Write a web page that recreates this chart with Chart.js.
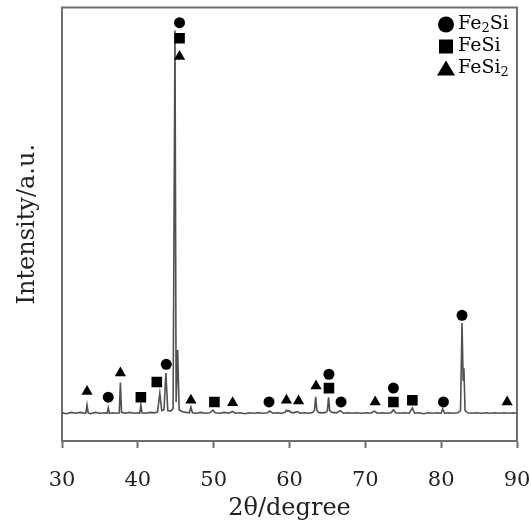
<!DOCTYPE html>
<html>
<head>
<meta charset="utf-8">
<script src="https://cdn.jsdelivr.net/npm/chart.js@4.4.0/dist/chart.umd.min.js"></script>
<style>
  html, body { margin: 0; padding: 0; background: #fff; }
  #wrap { width: 531px; height: 527px; }
</style>
</head>
<body>
<div id="wrap"><canvas id="xrdChart" width="531" height="527"></canvas></div>
<script>
/* =========================
   DIFRACTOGRAMA XRD
========================= */
const twoTheta = [
    30.0, 30.6, 31.2, 31.8, 32.4, 33.0, 33.15, 33.3, 33.45, 33.8,
    34.4, 35.0, 35.6, 35.95, 36.1, 36.25, 36.7, 37.2, 37.55, 37.7,
    37.85, 38.3, 38.9, 39.5, 40.0, 40.25, 40.4, 40.55, 41.0, 41.6,
    42.2, 42.6, 42.9, 43.15, 43.45, 43.7, 43.95, 44.35, 44.65, 44.9,
    45.05, 45.25, 45.45, 45.8, 46.3, 46.8, 47.0, 47.2, 47.7, 48.3,
    48.9, 49.5, 49.9, 50.2, 50.8, 51.4, 52.0, 52.5, 52.9, 53.5,
    54.1, 54.7, 55.3, 55.9, 56.5, 57.1, 57.4, 57.8, 58.4, 59.0,
    59.4, 59.6, 59.8, 60.0, 60.2, 60.6, 61.0, 61.4, 62.0, 62.6,
    63.1, 63.3, 63.45, 63.6, 63.8, 64.3, 64.8, 65.0, 65.15, 65.3,
    65.6, 66.2, 66.7, 67.1, 67.7, 68.3, 68.9, 69.5, 70.1, 70.7,
    71.2, 71.6, 72.2, 72.8, 73.4, 73.7, 74.0, 74.6, 75.2, 75.8,
    76.2, 76.5, 77.1, 77.7, 78.3, 78.9, 79.5, 80.0, 80.2, 80.45,
    81.0, 81.6, 82.2, 82.55, 82.75, 82.9, 83.0, 83.15, 83.5, 84.1,
    84.7, 85.3, 85.9, 86.5, 87.1, 87.7, 88.3, 88.9, 89.5, 90.0
];

const intensity = [
    6.5, 6.3, 6.6, 6.4, 6.6, 6.4, 6.5, 8.3, 6.5, 6.3,
    6.6, 6.4, 6.5, 6.4, 7.6, 6.4, 6.5, 6.4, 6.5, 13.5,
    6.6, 6.4, 6.6, 6.4, 6.5, 6.4, 8.3, 6.5, 6.4, 6.6,
    6.5, 6.7, 11.0, 7.0, 7.2, 15.7, 7.0, 6.9, 7.5, 94.7,
    9.0, 21.0, 7.2, 6.8, 6.6, 6.5, 7.8, 6.5, 6.4, 6.6,
    6.4, 6.5, 7.1, 6.5, 6.4, 6.6, 6.4, 6.8, 6.4, 6.5,
    6.3, 6.5, 6.4, 6.5, 6.4, 6.5, 6.9, 6.4, 6.5, 6.4,
    6.6, 7.1, 6.8, 7.0, 6.6, 6.5, 6.8, 6.4, 6.5, 6.4,
    6.6, 7.2, 10.2, 7.2, 6.6, 6.5, 6.6, 7.0, 10.1, 7.0,
    6.6, 6.5, 7.0, 6.4, 6.5, 6.4, 6.5, 6.4, 6.5, 6.4,
    6.9, 6.4, 6.5, 6.4, 6.5, 7.2, 6.5, 6.4, 6.5, 6.4,
    7.6, 6.4, 6.5, 6.3, 6.5, 6.4, 6.5, 6.4, 7.4, 6.4,
    6.5, 6.4, 6.5, 7.0, 27.2, 14.0, 16.8, 7.0, 6.5, 6.4,
    6.5, 6.4, 6.5, 6.4, 6.5, 6.4, 6.5, 6.4, 6.5, 6.4
];

/* FASES IDENTIFICADAS */
const fe2siTheta = [36.1, 43.75, 45.5, 57.3, 65.2, 66.8, 73.7, 80.3, 82.75];
const fe2siLevel = [10.1, 17.7, 96.5, 9.0, 15.4, 9.0, 12.2, 9.0, 29.0];

const fesiTheta = [40.4, 42.5, 45.5, 50.1, 65.2, 73.7, 76.2];
const fesiLevel = [10.1, 13.6, 92.9, 9.0, 12.2, 9.0, 9.4];

const fesi2Theta = [33.3, 37.7, 45.5, 47.0, 52.5, 59.6, 61.2, 63.5, 71.3, 88.7];
const fesi2Level = [11.4, 15.7, 88.7, 9.4, 8.8, 9.4, 9.2, 12.7, 9.0, 9.0];

/* ETIQUETAS: texto base, subindice, resto */
const phaseLabels = [
    ["Fe", "2", "Si"],
    ["FeSi", "", ""],
    ["FeSi", "2", ""]
];

const xTicks = [30, 40, 50, 60, 70, 80, 90];

const SERIF = "'DejaVu Serif', 'Liberation Serif', serif";

function toPoints(xs, ys) {
    return xs.map((x, i) => ({ x: x, y: ys[i] }));
}

/* =========================
   MARCO DEL AREA
========================= */
const framePlugin = {
    id: "frame",
    beforeDatasetsDraw(chart) {
        const { ctx, chartArea } = chart;
        ctx.save();
        ctx.strokeStyle = "#6e6e6e";
        ctx.lineWidth = 2;
        ctx.strokeRect(
            chartArea.left,
            chartArea.top,
            chartArea.right - chartArea.left,
            chartArea.bottom - chartArea.top
        );
        ctx.restore();
    }
};

/* =========================
   LEYENDA DE FASES
========================= */
function drawMarker(ctx, style, x, y) {
    ctx.beginPath();
    if (style === "circle") {
        ctx.arc(x, y, 8, 0, Math.PI * 2);
    } else if (style === "rect") {
        ctx.rect(x - 7, y - 7, 14, 14);
    } else {
        ctx.moveTo(x, y - 8);
        ctx.lineTo(x + 9, y + 7);
        ctx.lineTo(x - 9, y + 7);
        ctx.closePath();
    }
    ctx.fill();
}

const legendPlugin = {
    id: "phaseLegend",
    afterDraw(chart) {
        const { ctx, chartArea } = chart;
        const styles = ["circle", "rect", "triangle"];
        const markerX = chartArea.right - 71;
        const textX = chartArea.right - 59;

        ctx.save();
        ctx.fillStyle = "#000";
        ctx.textBaseline = "middle";

        phaseLabels.forEach((parts, i) => {
            const y = chartArea.top + 17 + i * 22;
            drawMarker(ctx, styles[i], markerX, y);

            let x = textX;
            ctx.font = "19px " + SERIF;
            ctx.fillText(parts[0], x, y);
            x += ctx.measureText(parts[0]).width;

            if (parts[1]) {
                ctx.font = "13px " + SERIF;
                ctx.fillText(parts[1], x, y + 4);
                x += ctx.measureText(parts[1]).width;
            }
            if (parts[2]) {
                ctx.font = "19px " + SERIF;
                ctx.fillText(parts[2], x, y);
            }
        });

        ctx.restore();
    }
};

/* =========================
   GRAFICO
========================= */
const markerBase = {
    type: "scatter",
    backgroundColor: "#000",
    borderColor: "#000",
    borderWidth: 0,
    order: 0
};

new Chart(document.getElementById("xrdChart").getContext("2d"), {
    data: {
        datasets: [
            Object.assign({}, markerBase, {
                label: "Fe2Si",
                data: toPoints(fe2siTheta, fe2siLevel),
                pointStyle: "circle",
                pointRadius: 5.5
            }),
            Object.assign({}, markerBase, {
                label: "FeSi",
                data: toPoints(fesiTheta, fesiLevel),
                pointStyle: "rect",
                pointRadius: 7.5
            }),
            Object.assign({}, markerBase, {
                label: "FeSi2",
                data: toPoints(fesi2Theta, fesi2Level),
                pointStyle: "triangle",
                pointRadius: 6.5
            }),
            {
                type: "line",
                label: "XRD",
                data: toPoints(twoTheta, intensity),
                borderColor: "#505050",
                borderWidth: 1.6,
                pointRadius: 0,
                tension: 0,
                order: 1
            }
        ]
    },
    options: {
        responsive: false,
        animation: false,
        events: [],
        layout: {
            padding: { top: 7, right: 14, left: 0, bottom: 0 }
        },
        plugins: {
            legend: { display: false },
            tooltip: { enabled: false }
        },
        scales: {
            x: {
                type: "linear",
                min: 30,
                max: 90,
                afterBuildTicks: scale => {
                    scale.ticks = xTicks.map(v => ({ value: v }));
                },
                afterFit: scale => {
                    scale.height = 86;
                    scale.paddingLeft = 0;
                    scale.paddingRight = 0;
                },
                ticks: {
                    color: "#222",
                    font: { family: SERIF, size: 21 },
                    padding: 20,
                    maxRotation: 0
                },
                grid: {
                    drawOnChartArea: false,
                    drawTicks: true,
                    tickLength: 7,
                    tickWidth: 2,
                    tickColor: "#6e6e6e"
                },
                border: { color: "#6e6e6e", width: 2 },
                title: {
                    display: true,
                    text: "2θ/degree",
                    color: "#222",
                    font: { family: SERIF, size: 24, lineHeight: 1 },
                    padding: { top: 0, bottom: 6 }
                }
            },
            y: {
                min: 0,
                max: 100,
                afterFit: scale => {
                    scale.width = 62;
                    scale.paddingTop = 0;
                    scale.paddingBottom = 0;
                },
                ticks: { display: false },
                grid: { display: false },
                border: { color: "#6e6e6e", width: 2 },
                title: {
                    display: true,
                    text: "Intensity/a.u.",
                    color: "#222",
                    font: { family: SERIF, size: 24, lineHeight: 1 },
                    padding: { top: 16, bottom: 0 }
                }
            }
        }
    },
    plugins: [framePlugin, legendPlugin]
});
</script>
</body>
</html>
